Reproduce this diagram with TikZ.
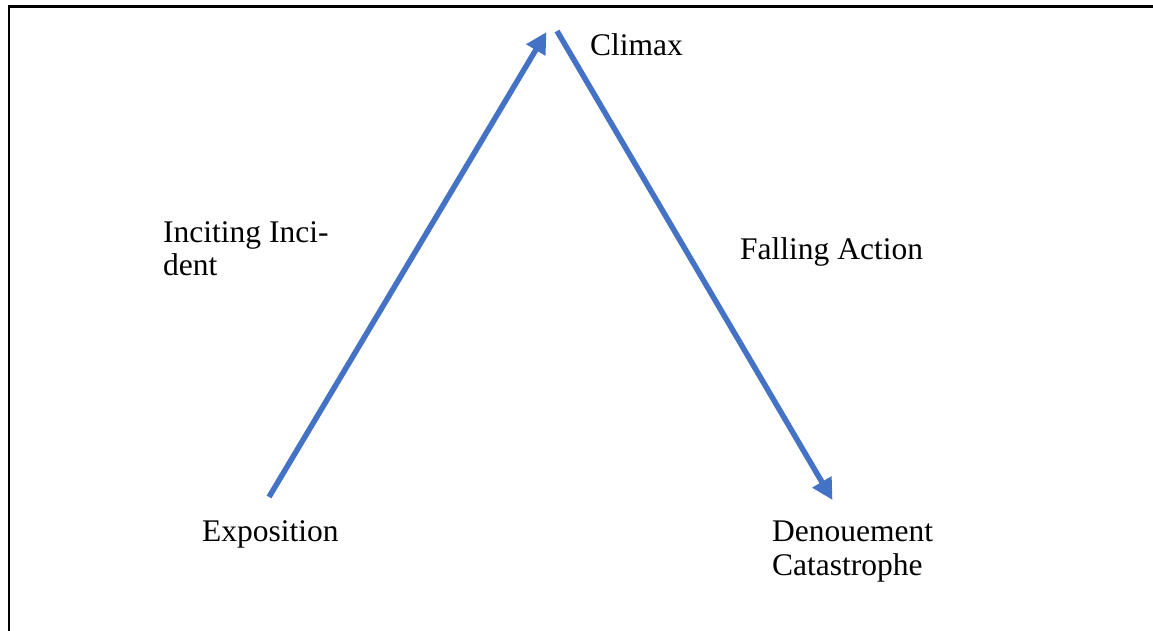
\documentclass[tikz,border=0pt]{standalone}
\usepackage{fontspec}
\setmainfont{Liberation Serif}
\usetikzlibrary{arrows.meta}
\definecolor{plotblue}{HTML}{4472C4}
\begin{document}
\begin{tikzpicture}[x=1pt,y=-1pt,
  label/.style={anchor=base west,inner sep=0pt,font=\fontsize{31.5}{34}\selectfont},
  plotarrow/.style={draw=plotblue,line width=5.5pt,
    -{Triangle[length=21pt,width=21pt]}},
  frameline/.style={draw=black,line width=2.5pt}]
\useasboundingbox (0,0) rectangle (1153,631);
% frame (top and left edges)
\coordinate (fTR) at (1153,6.5);
\coordinate (fTL) at (9,6.5);
\coordinate (fBL) at (9,631);
\draw[frameline] (fTR) -- (fTL) -- (fBL);
% arrow end points
\coordinate (expo) at (269,497);
\coordinate (peakL) at (546.5,32);
\coordinate (peakR) at (557,31);
\coordinate (deno) at (832.5,500);
\draw[plotarrow] (expo) -- (peakL);
\draw[plotarrow] (peakR) -- (deno);
% labels
\node[label] (climax) at (590,56) {Climax};
\node[label] (inc1) at (163,242) {Inciting Inci-};
\node[label] (inc2) at (163,275) {dent};
\node[label] (fall) at (740,259) {Falling Action};
\node[label] (expotext) at (202,541) {Exposition};
\node[label] (den1) at (772,541) {Denouement};
\node[label] (den2) at (772,575) {Catastrophe};
\end{tikzpicture}
\end{document}
